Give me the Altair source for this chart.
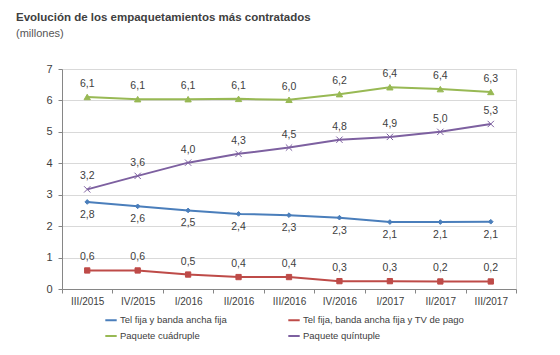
import altair as alt
import pandas as pd

categories = ["III/2015", "IV/2015", "I/2016", "II/2016", "III/2016",
              "IV/2016", "I/2017", "II/2017", "III/2017"]

series_names = ["Tel fija y banda ancha fija",
                "Tel fija, banda ancha fija y TV de pago",
                "Paquete cuádruple",
                "Paquete quíntuple"]

tel_banda = [2.77, 2.63, 2.50, 2.39, 2.35, 2.27, 2.13, 2.13, 2.14]
tel_banda_tv = [0.59, 0.59, 0.46, 0.38, 0.38, 0.25, 0.25, 0.24, 0.24]
cuadruple = [6.11, 6.04, 6.04, 6.05, 6.02, 6.20, 6.42, 6.36, 6.27]
quintuple = [3.17, 3.60, 4.02, 4.30, 4.50, 4.75, 4.84, 5.00, 5.25]

tel_banda_lbl = ["2,8", "2,6", "2,5", "2,4", "2,3", "2,3", "2,1", "2,1", "2,1"]
tel_banda_tv_lbl = ["0,6", "0,6", "0,5", "0,4", "0,4", "0,3", "0,3", "0,2", "0,2"]
cuadruple_lbl = ["6,1", "6,1", "6,1", "6,1", "6,0", "6,2", "6,4", "6,4", "6,3"]
quintuple_lbl = ["3,2", "3,6", "4,0", "4,3", "4,5", "4,8", "4,9", "5,0", "5,3"]

colors = ["#4a7ebb", "#be4b48", "#98b954", "#7d60a0"]
shapes = ["diamond", "square", "triangle-up", "M-1,-1L1,1M-1,1L1,-1"]
marker_sizes = [22, 28, 40, 40]

rows = []
for name, vals, lbls in zip(series_names,
                            [tel_banda, tel_banda_tv, cuadruple, quintuple],
                            [tel_banda_lbl, tel_banda_tv_lbl, cuadruple_lbl, quintuple_lbl]):
    for c, v, l in zip(categories, vals, lbls):
        rows.append({"cat": c, "serie": name, "valor": v, "etiqueta": l})
df = pd.DataFrame(rows)

x_enc = alt.X("cat:N", sort=categories, title=None,
              scale=alt.Scale(type="band", paddingInner=0, paddingOuter=0),
              axis=alt.Axis(labelAngle=0, tickBand="extent", tickSize=4,
                            tickColor="#868686", domainColor="#868686",
                            labelFont="Liberation Sans", labelFontSize=10,
                            labelColor="#404040", labelPadding=3, grid=False))
y_enc = alt.Y("valor:Q", title=None,
              scale=alt.Scale(domain=[0, 7], nice=False),
              axis=alt.Axis(values=[0, 1, 2, 3, 4, 5, 6, 7], tickSize=4,
                            tickColor="#868686", domainColor="#868686",
                            gridColor="#d9d9d9", labelFont="Liberation Sans",
                            labelFontSize=11, labelColor="#404040",
                            labelPadding=6))

color_scale = alt.Scale(domain=series_names, range=colors)

base = alt.Chart(df)

lines = base.mark_line(strokeWidth=2).encode(
    x=x_enc, y=y_enc,
    color=alt.Color("serie:N", scale=color_scale, sort=series_names, title=None,
                    legend=alt.Legend(orient="none", legendX=42, legendY=244,
                                      columns=2, columnPadding=57, rowPadding=4,
                                      padding=0, symbolType="M-1,0H1",
                                      symbolStrokeWidth=2, symbolSize=130,
                                      labelFont="Liberation Sans", labelFontSize=9.5,
                                      labelColor="#404040", labelOffset=2,
                                      labelLimit=400, direction="horizontal")))

point_layers = []
for name, col, shp, sz in zip(series_names, colors, shapes, marker_sizes):
    point_layers.append(
        base.transform_filter(alt.datum.serie == name).mark_point(
            filled=True, shape=shp, size=sz, fill=col, stroke=col,
            strokeWidth=1, opacity=1
        ).encode(x=x_enc, y=y_enc)
    )

labels_below = base.transform_filter(
    alt.datum.serie == series_names[0]
).mark_text(dy=13, font="Liberation Sans", fontSize=10.5, color="#404040").encode(
    x=x_enc, y=y_enc, text="etiqueta:N")

labels_above = base.transform_filter(
    alt.datum.serie != series_names[0]
).mark_text(dy=-13, font="Liberation Sans", fontSize=10.5, color="#404040").encode(
    x=x_enc, y=y_enc, text="etiqueta:N")

chart = alt.layer(lines, *point_layers, labels_below, labels_above).properties(
    width=454, height=220,
    autosize=alt.AutoSizeParams(type="none"),
    padding={"left": 54, "top": 61, "right": 30, "bottom": 70},
    title=alt.TitleParams(text="Evolución de los empaquetamientos más contratados",
                          subtitle="(millones)", anchor="start", frame="group",
                          dx=-46, offset=24, font="Liberation Sans", fontSize=11.5,
                          fontWeight="bold", color="#404040",
                          subtitleFont="Liberation Sans", subtitleFontSize=11,
                          subtitleColor="#555555", subtitlePadding=5)
).configure_view(stroke=None).configure(background="white")

chart.save("out.html", embed_options={"renderer": "svg", "actions": False})
